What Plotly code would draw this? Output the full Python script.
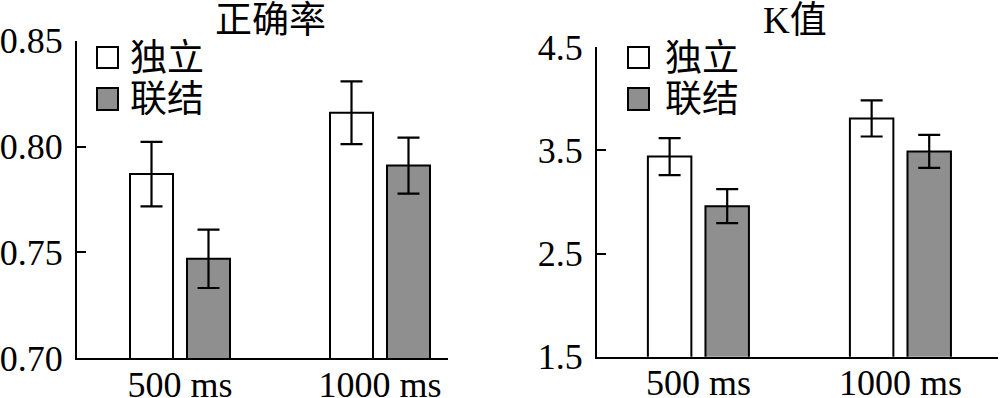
import plotly.graph_objects as go

# ---- data ----
categories = ["500 ms", "1000 ms"]
series_names = ["独立", "联结"]
acc_independent = [0.787, 0.816]
acc_independent_err = [0.0152, 0.0148]
acc_bound = [0.747, 0.791]
acc_bound_err = [0.0138, 0.0132]
k_independent = [3.44, 3.81]
k_independent_err = [0.18, 0.175]
k_bound = [2.96, 3.49]
k_bound_err = [0.165, 0.16]
acc_ticks = [0.70, 0.75, 0.80, 0.85]
k_ticks = [1.5, 2.5, 3.5, 4.5]
panel_titles = ["正确率", "K值"]

W, H = 1000, 398
FONT = "Liberation Serif, Noto Sans CJK SC, serif"
GRAY = "#8f8f8f"

def px(x):
    return x / W

def py(y):
    return (H - y) / H

fig = go.Figure()

def add_pair(vals_a, err_a, vals_b, err_b, xa, ya):
    fig.add_trace(go.Bar(
        x=categories, y=vals_a, name=series_names[0], xaxis=xa, yaxis=ya,
        marker=dict(color="white", line=dict(color="black", width=2)),
        error_y=dict(type="data", array=err_a, color="black", thickness=2.2, width=11),
        showlegend=False, hoverinfo="skip"))
    fig.add_trace(go.Bar(
        x=categories, y=vals_b, name=series_names[1], xaxis=xa, yaxis=ya,
        marker=dict(color=GRAY, line=dict(color="black", width=2)),
        error_y=dict(type="data", array=err_b, color="black", thickness=2.2, width=11),
        showlegend=False, hoverinfo="skip"))

add_pair(acc_independent, acc_independent_err, acc_bound, acc_bound_err, "x", "y")
add_pair(k_independent, k_independent_err, k_bound, k_bound_err, "x2", "y2")

axis_common = dict(showline=True, linecolor="black", linewidth=2, showgrid=False,
                   zeroline=False, automargin=False, fixedrange=True)
y_tickfont = dict(family=FONT, size=36, color="black")
x_tickfont = dict(family=FONT, size=36, color="black")

fig.update_layout(
    width=W, height=H,
    margin=dict(l=0, r=0, t=0, b=0),
    paper_bgcolor="white", plot_bgcolor="white",
    barmode="group", bargap=0.43, bargroupgap=0.245,
    showlegend=False,
    xaxis=dict(domain=[px(77), px(448)], range=[-0.515, 1.34], anchor="y",
               ticks="", type="category", ticklabelstandoff=-7,
               tickfont=x_tickfont, **axis_common),
    yaxis=dict(domain=[py(358.3), py(40.7)], range=[0.70, 0.85], anchor="x",
               tickvals=acc_ticks, ticktext=[f"{v:.2f}" for v in acc_ticks],
               ticks="inside", ticklen=9, tickwidth=2, tickcolor="black",
               ticklabelstandoff=5, tickfont=y_tickfont, **axis_common),
    xaxis2=dict(domain=[px(597), px(998)], range=[-0.502, 1.483], anchor="y2",
                ticks="", type="category", ticklabelstandoff=-7,
                tickfont=x_tickfont, **axis_common),
    yaxis2=dict(domain=[py(356.7), py(47.3)], range=[1.5, 4.5], anchor="x2",
                tickvals=k_ticks, ticktext=[f"{v:.1f}" for v in k_ticks],
                ticks="inside", ticklen=9, tickwidth=2, tickcolor="black",
                ticklabelstandoff=5, tickfont=y_tickfont, **axis_common),
)

# titles
annotations = [
    dict(text=panel_titles[0], x=px(270), y=py(21), xref="paper", yref="paper",
         showarrow=False, xanchor="center", yanchor="middle",
         font=dict(family=FONT, size=37, color="black")),
    dict(text=panel_titles[1], x=px(795), y=py(21), xref="paper", yref="paper",
         showarrow=False, xanchor="center", yanchor="middle",
         font=dict(family=FONT, size=37, color="black")),
]

# manual legends (large swatches)
shapes = []
legend_specs = [
    (97, 128),   # left panel: square x, text x
    (628, 663),  # right panel
]
rows = [(47, 68, "white", series_names[0]), (88, 110, GRAY, series_names[1])]
for sx, tx in legend_specs:
    for y0, y1, col, label in rows:
        shapes.append(dict(type="rect", xref="paper", yref="paper",
                           x0=px(sx), x1=px(sx + 21), y0=py(y1), y1=py(y0),
                           fillcolor=col, line=dict(color="black", width=2)))
        annotations.append(dict(text=label, x=px(tx), y=py((y0 + y1) / 2 + 1),
                                xref="paper", yref="paper", showarrow=False,
                                xanchor="left", yanchor="middle",
                                font=dict(family=FONT, size=37, color="black")))

fig.update_layout(annotations=annotations, shapes=shapes)

fig.write_html("out.html",
               config={"displayModeBar": False, "staticPlot": True},
               post_script="document.body.style.margin='0';document.body.style.overflow='hidden';")
